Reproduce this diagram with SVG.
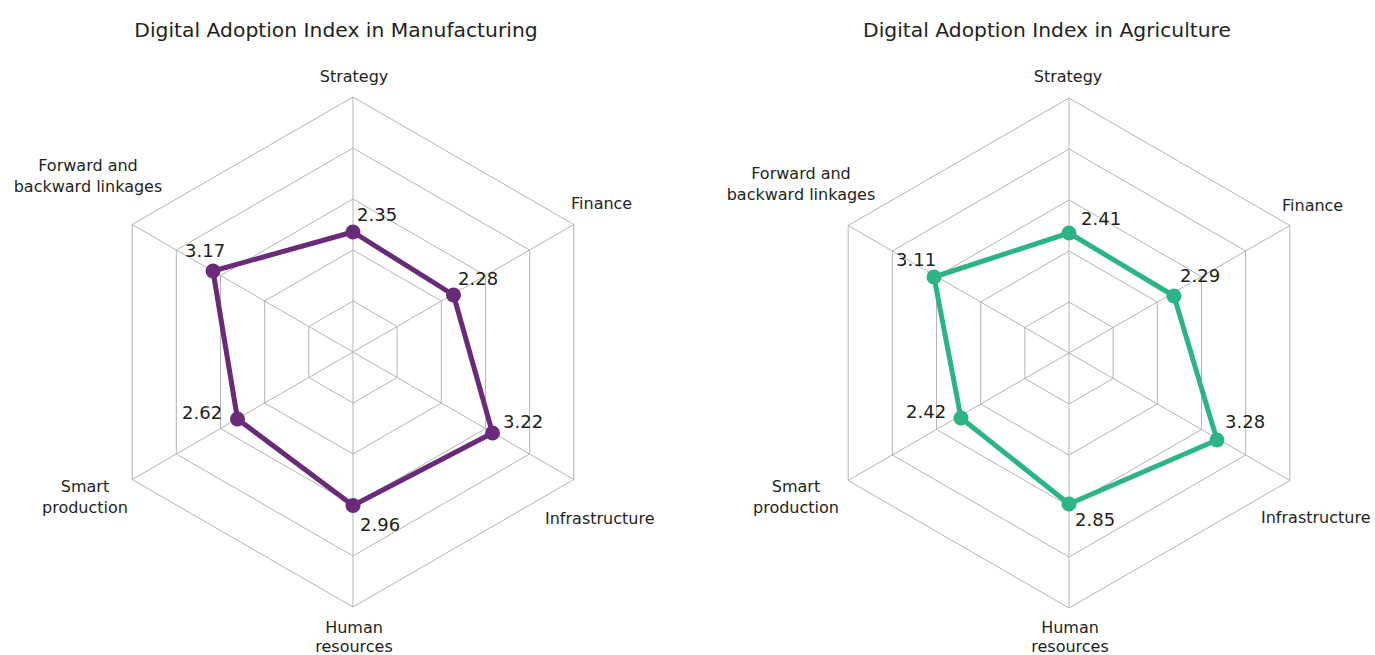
<svg xmlns="http://www.w3.org/2000/svg" xmlns:xlink="http://www.w3.org/1999/xlink" width="1375" height="655" viewBox="0 0 1375 655">
  <style>
    text { font-family: "DejaVu Sans", "Open Sans", sans-serif; fill: #231f20; }
    .title { font-size: 20.3px; text-anchor: middle; }
    .axis { font-size: 16px; }
    .mid { text-anchor: middle; }
    .val { font-size: 18px; }
    .grid { fill: none; stroke: #b4b4b4; stroke-width: 1; }
    .series { fill: none; stroke-width: 5; stroke-linejoin: round; }
    .purple { stroke: #6a2a7a; }
    .green { stroke: #2bb584; }
    .dotp { fill: #6a2a7a; }
    .dotg { fill: #2bb584; }
  </style>
  <defs>
    <g id="radar-grid" class="grid">
      <polygon points="0,-51 44.17,-25.5 44.17,25.5 0,51 -44.17,25.5 -44.17,-25.5"/>
      <polygon points="0,-102 88.33,-51 88.33,51 0,102 -88.33,51 -88.33,-51"/>
      <polygon points="0,-153 132.5,-76.5 132.5,76.5 0,153 -132.5,76.5 -132.5,-76.5"/>
      <polygon points="0,-204 176.67,-102 176.67,102 0,204 -176.67,102 -176.67,-102"/>
      <polygon points="0,-255 220.84,-127.5 220.84,127.5 0,255 -220.84,127.5 -220.84,-127.5"/>
      <path d="M0,0 L0,-255 M0,0 L220.84,-127.5 M0,0 L220.84,127.5 M0,0 L0,255 M0,0 L-220.84,127.5 M0,0 L-220.84,-127.5"/>
    </g>
  </defs>

  <!-- Left chart: Manufacturing -->
  <g id="chart-manufacturing">
    <text class="title" x="336" y="37">Digital Adoption Index in Manufacturing</text>
    <use xlink:href="#radar-grid" href="#radar-grid" transform="translate(353,352)"/>
    <g id="m-connectors">
      <polygon class="series purple" points="353,232 453.5,295 492.5,433 353,505.5 237.5,419 213,271"/>
    </g>
    <g id="m-strategy">
      <text class="axis mid" x="354" y="82">Strategy</text>
      <circle class="dotp" cx="353" cy="232" r="7.5"/>
      <text class="val" x="357" y="221">2.35</text>
    </g>
    <g id="m-finance">
      <text class="axis" x="571" y="209">Finance</text>
      <circle class="dotp" cx="453.5" cy="295" r="7.5"/>
      <text class="val" x="458" y="285">2.28</text>
    </g>
    <g id="m-infrastructure">
      <text class="axis" x="545" y="524">Infrastructure</text>
      <circle class="dotp" cx="492.5" cy="433" r="7.5"/>
      <text class="val" x="503" y="428">3.22</text>
    </g>
    <g id="m-human">
      <text class="axis mid" x="354" y="633">Human</text>
      <text class="axis mid" x="354" y="652">resources</text>
      <circle class="dotp" cx="353" cy="505.5" r="7.5"/>
      <text class="val" x="360" y="531">2.96</text>
    </g>
    <g id="m-smart">
      <text class="axis mid" x="85" y="492">Smart</text>
      <text class="axis mid" x="85" y="513">production</text>
      <circle class="dotp" cx="237.5" cy="419" r="7.5"/>
      <text class="val" x="182" y="419">2.62</text>
    </g>
    <g id="m-linkages">
      <text class="axis mid" x="88" y="171">Forward and</text>
      <text class="axis mid" x="88" y="192">backward linkages</text>
      <circle class="dotp" cx="213" cy="271" r="7.5"/>
      <text class="val" x="185" y="257">3.17</text>
    </g>
  </g>

  <!-- Right chart: Agriculture -->
  <g id="chart-agriculture">
    <text class="title" x="1047" y="37">Digital Adoption Index in Agriculture</text>
    <use xlink:href="#radar-grid" href="#radar-grid" transform="translate(1069,353)"/>
    <g id="a-connectors">
      <polygon class="series green" points="1069,233 1174,296 1217,440 1069,504 961,418 934,277"/>
    </g>
    <g id="a-strategy">
      <text class="axis mid" x="1068" y="82">Strategy</text>
      <circle class="dotg" cx="1069" cy="233" r="7.5"/>
      <text class="val" x="1081" y="225">2.41</text>
    </g>
    <g id="a-finance">
      <text class="axis" x="1282" y="211">Finance</text>
      <circle class="dotg" cx="1174" cy="296" r="7.5"/>
      <text class="val" x="1180" y="282">2.29</text>
    </g>
    <g id="a-infrastructure">
      <text class="axis" x="1261" y="523">Infrastructure</text>
      <circle class="dotg" cx="1217" cy="440" r="7.5"/>
      <text class="val" x="1225" y="428">3.28</text>
    </g>
    <g id="a-human">
      <text class="axis mid" x="1070" y="633">Human</text>
      <text class="axis mid" x="1070" y="652">resources</text>
      <circle class="dotg" cx="1069" cy="504" r="7.5"/>
      <text class="val" x="1075" y="526">2.85</text>
    </g>
    <g id="a-smart">
      <text class="axis mid" x="796" y="492">Smart</text>
      <text class="axis mid" x="796" y="513">production</text>
      <circle class="dotg" cx="961" cy="418" r="7.5"/>
      <text class="val" x="906" y="418">2.42</text>
    </g>
    <g id="a-linkages">
      <text class="axis mid" x="801" y="179">Forward and</text>
      <text class="axis mid" x="801" y="200">backward linkages</text>
      <circle class="dotg" cx="934" cy="277" r="7.5"/>
      <text class="val" x="896" y="266">3.11</text>
    </g>
  </g>
</svg>
